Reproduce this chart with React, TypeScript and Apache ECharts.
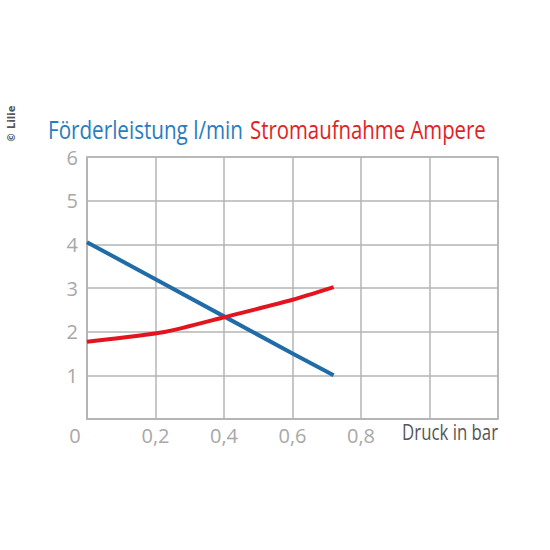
import React, { useEffect, useRef } from "react";
import * as echarts from "echarts";

const flowPressure = [0, 0.2, 0.4, 0.6, 0.72];
const flowLpm = [4.05, 3.2, 2.35, 1.5, 1.0];
const currentPressure = [0, 0.23, 0.4, 0.6, 0.72];
const currentAmp = [1.77, 2.0, 2.33, 2.73, 3.02];
const xTickLabels: Record<string, string> = { "0": "0", "0.2": "0,2", "0.4": "0,4", "0.6": "0,6", "0.8": "0,8" };
const flowTitle = "Förderleistung l/min";
const currentTitle = "Stromaufnahme Ampere";
const xName = "Druck in bar";

const BLUE = "#1f6ca8";
const RED = "#e3141e";
const GRID = "#b4b4b4";
const LABEL = "#a8a8a8";
const FONT = "'Open Sans', sans-serif";

function measure(text: string, size: number): number {
  const c = document.createElement("canvas").getContext("2d");
  if (!c) return text.length * size * 0.5;
  c.font = `${size}px 'Open Sans', sans-serif`;
  return c.measureText(text).width;
}

export default function App() {
  const ref = useRef<HTMLDivElement>(null);
  useEffect(() => {
    const chart = echarts.init(ref.current!, null, { renderer: "svg" });
    const flowData = flowPressure.map((x, i) => [x, flowLpm[i]]);
    const currentData = currentPressure.map((x, i) => [x, currentAmp[i]]);
    const titleSize = 25;
    const sFlow = 195 / measure(flowTitle, titleSize);
    const sCur = 236 / measure(currentTitle, titleSize);
    const sName = 96 / measure(xName, 21);
    chart.setOption({
      animation: false,
      backgroundColor: "#ffffff",
      grid: {
        left: 87,
        top: 157,
        right: 52,
        bottom: 131,
        show: true,
        borderColor: GRID,
        borderWidth: 1.5,
      },
      xAxis: {
        type: "value",
        min: 0,
        max: 1.2,
        interval: 0.2,
        axisLine: { show: true, lineStyle: { color: GRID, width: 1.5 } },
        axisTick: { show: false },
        splitLine: { show: true, lineStyle: { color: GRID, width: 1.5 } },
        axisLabel: {
          margin: 6,
          color: LABEL,
          fontSize: 20,
          fontFamily: FONT,
          formatter: (v: number) => {
            const key = String(Math.round(v * 10) / 10);
            if (key === "0") return "{z|0}";
            return xTickLabels[key] ?? "";
          },
          rich: {
            z: { color: LABEL, fontSize: 20, fontFamily: FONT, padding: [0, 24, 0, 0] },
          },
        },
      },
      yAxis: {
        type: "value",
        min: 0,
        max: 6,
        interval: 1,
        axisLine: { show: true, lineStyle: { color: GRID, width: 1.5 } },
        axisTick: { show: false },
        splitLine: { show: true, lineStyle: { color: GRID, width: 1.5 } },
        axisLabel: {
          margin: 9,
          color: LABEL,
          fontSize: 20,
          fontFamily: FONT,
          formatter: (v: number) => (v === 0 ? "" : String(v)),
        },
      },
      graphic: [
        {
          type: "text",
          x: 48,
          y: 130,
          scaleX: sFlow,
          style: {
            text: flowTitle,
            fill: "#2a7cc0",
            fontSize: titleSize,
            fontFamily: FONT,
            align: "left",
            verticalAlign: "middle",
          },
        },
        {
          type: "text",
          x: 250,
          y: 130,
          scaleX: sCur,
          style: {
            text: currentTitle,
            fill: "#e31e24",
            fontSize: titleSize,
            fontFamily: FONT,
            align: "left",
            verticalAlign: "middle",
          },
        },
        {
          type: "text",
          x: 498,
          y: 432,
          scaleX: sName,
          style: {
            text: xName,
            fill: "#555555",
            fontSize: 21,
            fontFamily: FONT,
            align: "right",
            verticalAlign: "middle",
          },
        },
        {
          type: "text",
          x: 11,
          y: 124,
          rotation: Math.PI / 2,
          style: {
            text: "© Lilie",
            fill: "#555555",
            fontSize: 10,
            fontWeight: "bold",
            fontFamily: "'DejaVu Sans', sans-serif",
            align: "center",
            verticalAlign: "middle",
          },
        },
      ],
      series: [
        {
          type: "line",
          data: flowData,
          symbol: "none",
          lineStyle: { color: BLUE, width: 4 },
          z: 3,
        },
        {
          type: "line",
          data: currentData,
          symbol: "none",
          smooth: 0.2,
          lineStyle: { color: RED, width: 4 },
          z: 4,
        },
      ],
    });
    return () => chart.dispose();
  }, []);
  return (
    <div
      ref={ref}
      style={{ position: "fixed", left: 0, top: 0, width: 550, height: 550 }}
    />
  );
}
